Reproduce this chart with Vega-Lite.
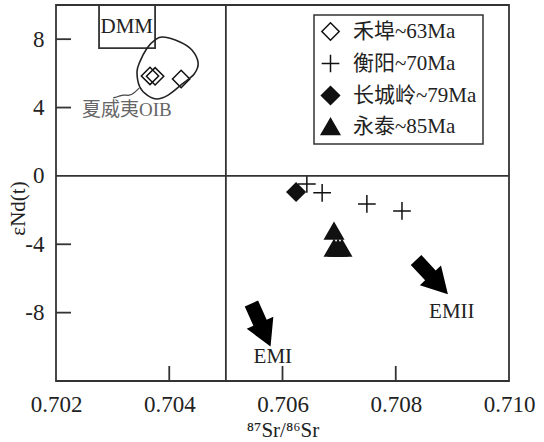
{
  "$schema": "https://vega.github.io/schema/vega-lite/v6.json",
  "width": 453,
  "height": 376,
  "autosize": "none",
  "padding": {"left": 56, "top": 5, "right": 35, "bottom": 61},
  "background": "white",
  "datasets": {
    "vline": [{"sr": 0.705}],
    "hline": [{"nd": 0}],
    "xticks": [{"sr": 0.704}, {"sr": 0.706}, {"sr": 0.708}],
    "yticks": [{"nd": -8}, {"nd": -4}, {"nd": 4}, {"nd": 8}],
    "dmm": [{"sr": 0.70276, "sr2": 0.70375, "nd": 10, "nd2": 7.48}],
    "labels": [
      {"label": "DMM", "sr": 0.70325, "nd": 8.71},
      {"label": "夏威夷OIB", "sr": 0.70325, "nd": 3.86},
      {"label": "EMI", "sr": 0.70583, "nd": -10.6},
      {"label": "EMII", "sr": 0.70899, "nd": -7.96}
    ],
    "oib": [
      {"i": 1, "sr": 0.70389, "nd": 8.13},
      {"i": 2, "sr": 0.70419, "nd": 7.84},
      {"i": 3, "sr": 0.7044, "nd": 7.37},
      {"i": 4, "sr": 0.70451, "nd": 6.61},
      {"i": 5, "sr": 0.70444, "nd": 5.96},
      {"i": 6, "sr": 0.70423, "nd": 5.38},
      {"i": 7, "sr": 0.70398, "nd": 4.73},
      {"i": 8, "sr": 0.70378, "nd": 4.5},
      {"i": 9, "sr": 0.70361, "nd": 4.73},
      {"i": 10, "sr": 0.70348, "nd": 5.2},
      {"i": 11, "sr": 0.70343, "nd": 6.08},
      {"i": 12, "sr": 0.70348, "nd": 6.67},
      {"i": 13, "sr": 0.70361, "nd": 7.48},
      {"i": 14, "sr": 0.70375, "nd": 7.96}
    ],
    "leader": [
      {"i": 1, "sr": 0.70347, "nd": 5.14},
      {"i": 2, "sr": 0.70338, "nd": 4.85},
      {"i": 3, "sr": 0.70329, "nd": 4.68},
      {"i": 4, "sr": 0.7032, "nd": 4.76},
      {"i": 5, "sr": 0.70311, "nd": 4.66},
      {"i": 6, "sr": 0.70301, "nd": 4.56}
    ],
    "samples": [
      {"group": "禾埠~63Ma", "sr": 0.70366, "nd": 5.85},
      {"group": "禾埠~63Ma", "sr": 0.70375, "nd": 5.83},
      {"group": "禾埠~63Ma", "sr": 0.70421, "nd": 5.67},
      {"group": "衡阳~70Ma", "sr": 0.70643, "nd": -0.47},
      {"group": "衡阳~70Ma", "sr": 0.7067, "nd": -0.99},
      {"group": "衡阳~70Ma", "sr": 0.70749, "nd": -1.64},
      {"group": "衡阳~70Ma", "sr": 0.70811, "nd": -2.05},
      {"group": "长城岭~79Ma", "sr": 0.70624, "nd": -0.94},
      {"group": "永泰~85Ma", "sr": 0.70691, "nd": -3.22},
      {"group": "永泰~85Ma", "sr": 0.70691, "nd": -4.22},
      {"group": "永泰~85Ma", "sr": 0.70698, "nd": -4.22},
      {"group": "永泰~85Ma", "sr": 0.70705, "nd": -4.22}
    ],
    "arrows": [
      {"name": "EMI", "sr": 0.70562, "nd": -8.72},
      {"name": "EMII", "sr": 0.70864, "nd": -5.92}
    ]
  },
  "layer": [
    {
      "data": {"name": "samples"},
      "mark": {"type": "point", "filled": true, "stroke": "#111", "strokeWidth": 1.5, "opacity": 1},
      "encoding": {
        "x": {
          "field": "sr", "type": "quantitative",
          "scale": {"domain": [0.702, 0.71], "nice": false, "zero": false},
          "axis": {"values": [0.702, 0.704, 0.706, 0.708, 0.71], "format": ".3f", "title": "⁸⁷Sr/⁸⁶Sr", "titleY": 55, "titleBaseline": "alphabetic", "labelPadding": 12}
        },
        "y": {
          "field": "nd", "type": "quantitative",
          "scale": {"domain": [-12, 10], "nice": false, "zero": false},
          "axis": {"values": [-8, -4, 0, 4, 8], "title": "εNd(t)", "titleX": -38, "titleY": 203, "titleBaseline": "middle", "titleAngle": -90, "labelPadding": 12, "labelExpr": "replace(datum.label, '−', '-')"}
        },
        "shape": {
          "field": "group", "type": "nominal",
          "scale": {"domain": ["禾埠~63Ma", "衡阳~70Ma", "长城岭~79Ma", "永泰~85Ma"], "range": ["diamond", "M-1,0L1,0M0,-1L0,1", "diamond", "triangle-up"]},
          "legend": {"title": null, "orient": "none", "legendX": 258, "legendY": 10, "encode": {"symbols": {"update": {"stroke": {"value": "#111"}, "strokeWidth": {"value": 1.5}}}}}
        },
        "fill": {
          "field": "group", "type": "nominal",
          "scale": {"domain": ["禾埠~63Ma", "衡阳~70Ma", "长城岭~79Ma", "永泰~85Ma"], "range": ["transparent", "transparent", "#111", "#111"]},
          "legend": {"title": null, "orient": "none", "legendX": 258, "legendY": 10, "encode": {"symbols": {"update": {"stroke": {"value": "#111"}, "strokeWidth": {"value": 1.5}}}}}
        },
        "size": {
          "field": "group", "type": "nominal",
          "scale": {"domain": ["禾埠~63Ma", "衡阳~70Ma", "长城岭~79Ma", "永泰~85Ma"], "range": [300, 340, 320, 210]},
          "legend": {"title": null, "orient": "none", "legendX": 258, "legendY": 10, "encode": {"symbols": {"update": {"stroke": {"value": "#111"}, "strokeWidth": {"value": 1.5}}}}}
        }
      }
    },
    {
      "data": {"name": "vline"},
      "mark": {"type": "rule", "stroke": "#333", "strokeWidth": 1.8},
      "encoding": {
        "x": {"field": "sr", "type": "quantitative", "scale": {"domain": [0.702, 0.71], "nice": false, "zero": false}}
      }
    },
    {
      "data": {"name": "hline"},
      "mark": {"type": "rule", "stroke": "#333", "strokeWidth": 1.8},
      "encoding": {
        "y": {"field": "nd", "type": "quantitative", "scale": {"domain": [-12, 10], "nice": false, "zero": false}}
      }
    },
    {
      "data": {"name": "xticks"},
      "mark": {"type": "rule", "stroke": "#333", "strokeWidth": 1.8},
      "encoding": {
        "x": {"field": "sr", "type": "quantitative", "scale": {"domain": [0.702, 0.71], "nice": false, "zero": false}},
        "y": {"datum": -12, "type": "quantitative", "scale": {"domain": [-12, 10], "nice": false, "zero": false}},
        "y2": {"datum": -11.12}
      }
    },
    {
      "data": {"name": "yticks"},
      "mark": {"type": "rule", "stroke": "#333", "strokeWidth": 1.8},
      "encoding": {
        "y": {"field": "nd", "type": "quantitative", "scale": {"domain": [-12, 10], "nice": false, "zero": false}},
        "x": {"datum": 0.702, "type": "quantitative", "scale": {"domain": [0.702, 0.71], "nice": false, "zero": false}},
        "x2": {"datum": 0.702265}
      }
    },
    {
      "data": {"name": "dmm"},
      "mark": {"type": "rect", "fill": "transparent", "stroke": "#333", "strokeWidth": 1.8},
      "encoding": {
        "x": {"field": "sr", "type": "quantitative", "scale": {"domain": [0.702, 0.71], "nice": false, "zero": false}},
        "x2": {"field": "sr2"},
        "y": {"field": "nd", "type": "quantitative", "scale": {"domain": [-12, 10], "nice": false, "zero": false}},
        "y2": {"field": "nd2"}
      }
    },
    {
      "data": {"name": "oib"},
      "mark": {"type": "line", "interpolate": "cardinal-closed", "stroke": "#222", "strokeWidth": 1.6},
      "encoding": {
        "x": {"field": "sr", "type": "quantitative", "scale": {"domain": [0.702, 0.71], "nice": false, "zero": false}},
        "y": {"field": "nd", "type": "quantitative", "scale": {"domain": [-12, 10], "nice": false, "zero": false}},
        "order": {"field": "i", "type": "quantitative"}
      }
    },
    {
      "data": {"name": "leader"},
      "mark": {"type": "line", "interpolate": "basis", "stroke": "#444", "strokeWidth": 1.2},
      "encoding": {
        "x": {"field": "sr", "type": "quantitative", "scale": {"domain": [0.702, 0.71], "nice": false, "zero": false}},
        "y": {"field": "nd", "type": "quantitative", "scale": {"domain": [-12, 10], "nice": false, "zero": false}},
        "order": {"field": "i", "type": "quantitative"}
      }
    },
    {
      "data": {"name": "labels"},
      "transform": [{"filter": "datum.label == 'DMM'"}],
      "mark": {"type": "text", "font": "'Liberation Serif', 'Noto Sans CJK SC', serif", "fontSize": 21, "color": "#222", "align": "center", "baseline": "middle"},
      "encoding": {
        "x": {"field": "sr", "type": "quantitative", "scale": {"domain": [0.702, 0.71], "nice": false, "zero": false}},
        "y": {"field": "nd", "type": "quantitative", "scale": {"domain": [-12, 10], "nice": false, "zero": false}},
        "text": {"field": "label"}
      }
    },
    {
      "data": {"name": "labels"},
      "transform": [{"filter": "datum.label == '夏威夷OIB'"}],
      "mark": {"type": "text", "font": "'Liberation Serif', 'Noto Sans CJK SC', serif", "fontSize": 19, "color": "#666", "align": "center", "baseline": "middle"},
      "encoding": {
        "x": {"field": "sr", "type": "quantitative", "scale": {"domain": [0.702, 0.71], "nice": false, "zero": false}},
        "y": {"field": "nd", "type": "quantitative", "scale": {"domain": [-12, 10], "nice": false, "zero": false}},
        "text": {"field": "label"}
      }
    },
    {
      "data": {"name": "labels"},
      "transform": [{"filter": "datum.label == 'EMI' || datum.label == 'EMII'"}],
      "mark": {"type": "text", "font": "'Liberation Serif', serif", "fontSize": 21, "color": "#222", "align": "center", "baseline": "middle"},
      "encoding": {
        "x": {"field": "sr", "type": "quantitative", "scale": {"domain": [0.702, 0.71], "nice": false, "zero": false}},
        "y": {"field": "nd", "type": "quantitative", "scale": {"domain": [-12, 10], "nice": false, "zero": false}},
        "text": {"field": "label"}
      }
    },
    {
      "data": {"name": "arrows"},
      "transform": [{"filter": "datum.name == 'EMI'"}],
      "mark": {"type": "point", "filled": true, "color": "#000", "opacity": 1, "shape": "M-0.31,-1L0.31,-1L0.31,-0.1L0.62,-0.1L0,1L-0.62,-0.1L-0.31,-0.1Z", "size": 2209, "angle": 336},
      "encoding": {
        "x": {"field": "sr", "type": "quantitative", "scale": {"domain": [0.702, 0.71], "nice": false, "zero": false}},
        "y": {"field": "nd", "type": "quantitative", "scale": {"domain": [-12, 10], "nice": false, "zero": false}}
      }
    },
    {
      "data": {"name": "arrows"},
      "transform": [{"filter": "datum.name == 'EMII'"}],
      "mark": {"type": "point", "filled": true, "color": "#000", "opacity": 1, "shape": "M-0.31,-1L0.31,-1L0.31,-0.1L0.62,-0.1L0,1L-0.62,-0.1L-0.31,-0.1Z", "size": 2181, "angle": 317},
      "encoding": {
        "x": {"field": "sr", "type": "quantitative", "scale": {"domain": [0.702, 0.71], "nice": false, "zero": false}},
        "y": {"field": "nd", "type": "quantitative", "scale": {"domain": [-12, 10], "nice": false, "zero": false}}
      }
    }
  ],
  "config": {
    "view": {"stroke": "#333", "strokeWidth": 1.8},
    "axis": {
      "domain": false,
      "grid": false,
      "ticks": false,
      "labelFont": "'Liberation Serif', serif",
      "labelFontSize": 23,
      "labelColor": "#222",
      "labelFlush": false,
      "titleFont": "'Liberation Serif', serif",
      "titleFontSize": 21,
      "titleFontWeight": "normal",
      "titleColor": "#222"
    },
    "legend": {
      "labelFont": "'Liberation Serif', 'Noto Sans CJK SC', serif",
      "labelFontSize": 21,
      "labelColor": "#222",
      "strokeColor": "#333",
      "strokeWidth": 1.5,
      "padding": 6,
      "rowPadding": 7,
      "labelOffset": 12
    }
  }
}
